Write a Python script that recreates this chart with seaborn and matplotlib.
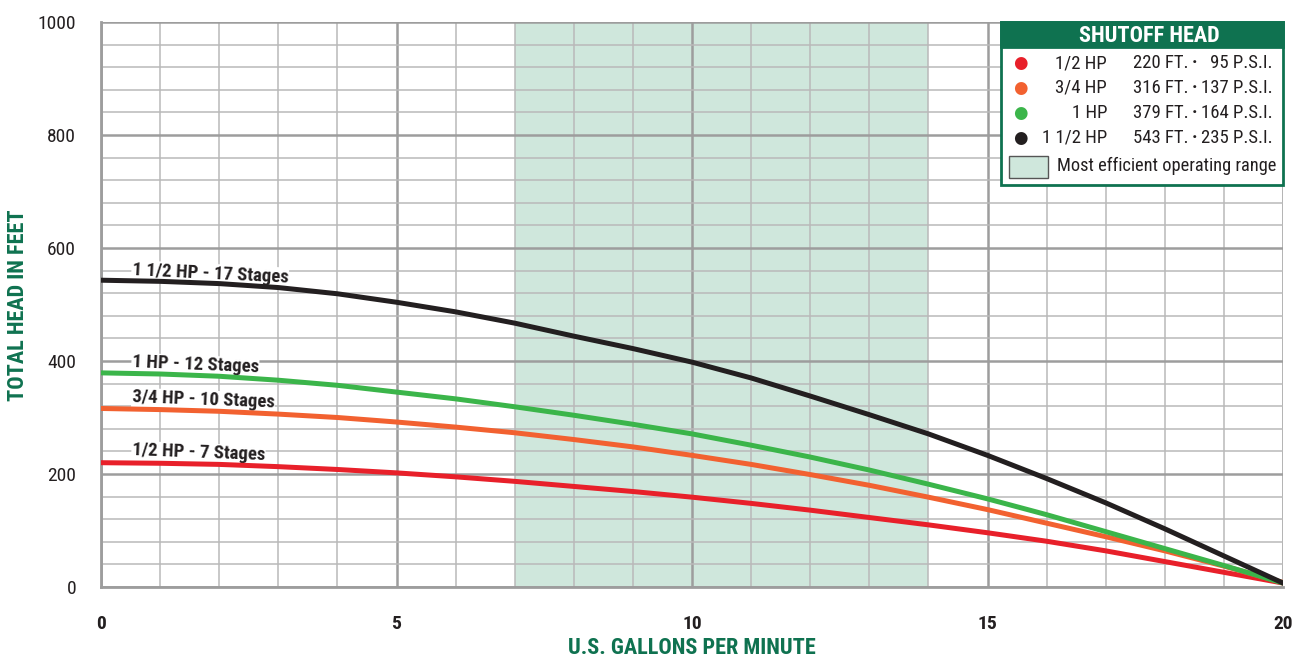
import numpy as np
import pandas as pd
import matplotlib
matplotlib.use("Agg")
import matplotlib.pyplot as plt
import seaborn as sns
from matplotlib.patches import Rectangle
from matplotlib.ticker import MultipleLocator

# ---- data ----
gpm = list(range(0, 21))
head_half = [220, 219, 217, 213, 208, 202, 195, 187, 178, 169, 159,
             148, 136, 123, 110, 96, 81, 64, 45, 26, 7]
head_three_q = [316, 314, 311, 306, 300, 292, 283, 273, 261, 248, 233,
                217, 199, 180, 159, 137, 113, 89, 64, 37, 8]
head_one = [379, 377, 373, 366, 357, 345, 333, 319, 304, 288, 271,
            251, 230, 207, 182, 156, 128, 98, 68, 38, 7]
head_one_half = [543, 541, 537, 530, 519, 504, 487, 467, 444, 422, 398,
                 370, 338, 305, 271, 233, 192, 149, 103, 55, 7]

models = ["1/2 HP", "3/4 HP", "1 HP", "1 1/2 HP"]
curve_labels = ["1/2 HP - 7 Stages", "3/4 HP - 10 Stages",
                "1 HP - 12 Stages", "1 1/2 HP - 17 Stages"]
shutoff_ft = ["220 FT.", "316 FT.", "379 FT.", "543 FT."]
shutoff_psi = ["95 P.S.I.", "137 P.S.I.", "164 P.S.I.", "235 P.S.I."]
colors = ["#e8202a", "#f26130", "#3bb54a", "#231f20"]
efficient_range = (7, 14)

df = pd.DataFrame({
    "gpm": gpm * 4,
    "head": head_half + head_three_q + head_one + head_one_half,
    "model": sum([[m] * len(gpm) for m in models], []),
})

sns.set_style("white")
FONT = ["Roboto Condensed", "DejaVu Sans"]
plt.rcParams["font.family"] = FONT

green = "#0f7250"
ink = "#231f20"
grid_major = "#9d9d9d"
grid_minor = "#b9b9b9"

W, H = 1297, 660
def fx(px):
    return px / W
def fy(py):
    return 1 - py / H

fig = plt.figure(figsize=(12.97, 6.6), dpi=100)
ax = fig.add_axes([fx(101), fy(587), fx(1283) - fx(101), fy(22) - fy(587)])

# efficient operating range
ax.axvspan(*efficient_range, color="#cfe7dc", zorder=0, lw=0)

# grid
ax.set_xlim(0, 20)
ax.set_ylim(0, 1000)
ax.xaxis.set_major_locator(MultipleLocator(5))
ax.xaxis.set_minor_locator(MultipleLocator(1))
ax.yaxis.set_major_locator(MultipleLocator(200))
ax.yaxis.set_minor_locator(MultipleLocator(40))
ax.grid(which="major", color=grid_major, lw=1.8, zorder=1)
ax.grid(which="minor", color=grid_minor, lw=1.1, zorder=1)
ax.set_axisbelow(True)

sns.lineplot(data=df, x="gpm", y="head", hue="model", palette=colors,
             hue_order=models, lw=3.6, ax=ax, legend=False, zorder=3)

for sp in ["top", "right"]:
    ax.spines[sp].set_visible(False)
for sp in ["left", "bottom"]:
    ax.spines[sp].set_color(grid_major)
    ax.spines[sp].set_linewidth(2)

ax.tick_params(axis="y", which="major", length=6, width=2, color=grid_major,
               labelsize=14, labelcolor=ink, pad=12)
ax.tick_params(axis="x", which="major", length=6, width=2, color=grid_major,
               labelsize=14, labelcolor=ink, pad=14)
ax.tick_params(which="minor", length=0)
for lab in ax.get_xticklabels():
    lab.set_fontweight("bold")
for lab in ax.get_yticklabels():
    lab.set_fontweight("normal")

ax.set_xlabel("")
ax.set_ylabel("")
fig.text(fx(692), fy(648), "U.S. GALLONS PER MINUTE", fontsize=16,
         fontweight="bold", color=green, ha="center", va="center")
fig.text(fx(18), fy(305), "TOTAL HEAD IN FEET", fontsize=16,
         fontweight="bold", color=green, ha="center", va="center",
         rotation=90)

# curve labels
label_pos = [(0.52, 233), (0.52, 327), (0.52, 389), (0.52, 553)]
label_rot = [-2.2, -2.2, -2.4, -2.8]
for txt, (lx, ly), rot in zip(curve_labels, label_pos, label_rot):
    ax.text(lx, ly, txt, fontsize=13.5, fontweight="bold", color=ink,
            rotation=rot, rotation_mode="anchor", va="baseline", ha="left",
            zorder=2,
            bbox=dict(facecolor="white", edgecolor="none", pad=0.4))

# legend box (figure pixel coords)
fig.patches.append(Rectangle((fx(1001), fy(185)), fx(1283) - fx(1001),
                             fy(22) - fy(185), transform=fig.transFigure,
                             facecolor="white", edgecolor=green, lw=2, zorder=5))
fig.patches.append(Rectangle((fx(1001), fy(47)), fx(1283) - fx(1001),
                             fy(22) - fy(47), transform=fig.transFigure,
                             facecolor=green, edgecolor=green, lw=2, zorder=6))
fig.text(fx(1149), fy(36), "SHUTOFF HEAD", color="white", fontsize=16,
         fontweight="bold", ha="center", va="center", zorder=7)

row_y = [63, 88, 113, 138]
for c, m, ft, psi, ry in zip(colors, models, shutoff_ft, shutoff_psi, row_y):
    fig.text(fx(1020), fy(ry), "\u25cf", color=c, fontsize=12,
             ha="center", va="center", family="DejaVu Sans", zorder=7)
    fig.text(fx(1107), fy(ry), m, fontsize=13.5, ha="right", va="center",
             color=ink, zorder=7)
    fig.text(fx(1133), fy(ry), ft, fontsize=13.5, ha="left",
             va="center", color=ink, zorder=7)
    fig.text(fx(1195), fy(ry), "\u00b7", fontsize=14, ha="center",
             va="center", color=ink, zorder=7, fontweight="bold")
    fig.text(fx(1273), fy(ry), psi, fontsize=13.5, ha="right", va="center",
             color=ink, zorder=7)

fig.patches.append(Rectangle((fx(1009), fy(178)), fx(1048) - fx(1009),
                             fy(156) - fy(178), transform=fig.transFigure,
                             facecolor="#cfe7dc", edgecolor="#555555", lw=1,
                             zorder=7))
fig.text(fx(1057), fy(166), "Most efficient operating range", fontsize=13.2,
         ha="left", va="center", color=ink, zorder=7)

fig.savefig("out.png", dpi=100)
